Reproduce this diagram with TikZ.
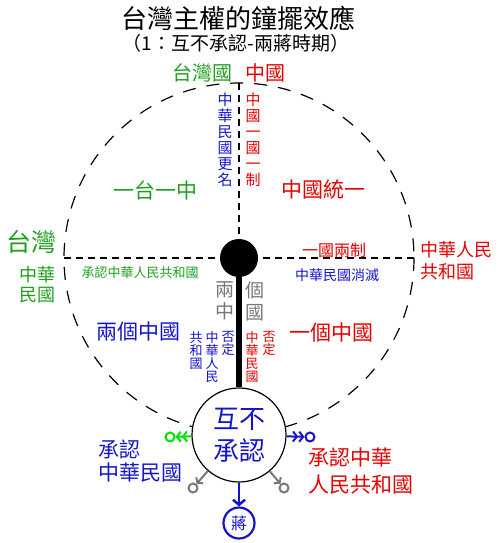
\documentclass[tikz,border=0pt]{standalone}
\usepackage{fontspec}
\setmainfont{Noto Sans CJK TC}
\usetikzlibrary{arrows.meta}
\definecolor{twgreen}{RGB}{30,160,30}
\definecolor{ringgreen}{RGB}{0,225,0}
\definecolor{cnred}{RGB}{230,0,0}
\definecolor{rocblue}{RGB}{20,20,205}
\definecolor{pgray}{RGB}{120,120,120}

\begin{document}
\begin{tikzpicture}
[
    x=1pt, y=-1pt,
    txt/.style={inner sep=0pt, align=center},
    sz/.style 2 args={font=\fontsize{#1}{#2}\selectfont},
    swing/.style={draw, line width=1.2pt, dash pattern=on 13pt off 11pt},
    guide/.style={draw, line width=1.2pt, dash pattern=on 7pt off 5pt},
    ring/.style={circle, draw=#1, line width=2pt, minimum size=9pt, inner sep=0pt},
    push/.style={draw=#1, line width=2pt, -{Straight Barb[length=3.5pt,width=9pt]}},
    twice/.style={-{Straight Barb[length=4pt,width=10pt] Straight Barb[length=4pt,width=10pt]}},
]
\useasboundingbox (0,0) rectangle (500,543);

\node[txt, sz={26}{28}] (title) at (238,18) {台灣主權的鐘擺效應};
\node[txt, sz={19}{21}] (subtitle) at (236,43) {（1：互不承認-兩蔣時期）};

\coordinate (hub) at (239,258);
\coordinate (north end) at (239,83);
\coordinate (west end) at (64,258);
\coordinate (east end) at (414,258);

\draw[swing] (hub) circle (175);
\draw[guide] (north end) -- (hub);
\draw[guide] (west end) -- (hub);
\draw[guide] (east end) -- (hub);

\node[circle, draw, fill=white, line width=1.2pt, minimum size=94pt, inner sep=0pt,
      align=center, text=rocblue, sz={26}{32}] (mutual) at (239,435) {互不\\承認};
\node[circle, fill=black, minimum size=38pt, inner sep=0pt] (ball) at (hub) {};
\draw[line width=6pt] (ball) -- (mutual);

\node[txt, sz={20}{22}, text=twgreen] (taiwan state) at (202,73) {台灣國};
\node[txt, sz={20}{22}, text=cnred] (china state) at (265,73) {中國};
\node[txt, sz={15}{16}, text=rocblue] (rename) at (225,140) {中\\華\\民\\國\\更\\名};
\node[txt, sz={15}{16}, text=cnred] (onesys) at (253,140) {中\\國\\一\\國\\一\\制};

\node[txt, sz={21}{23}, text=twgreen] (one one) at (155,190) {一台一中};
\node[txt, sz={21}{23}, text=cnred] (unify) at (323,190) {中國統一};

\node[txt, sz={25}{27}, text=twgreen] (taiwan) at (31,242) {台灣};
\node[txt, sz={18}{20}, text=twgreen] (roc) at (37,285) {中華\\民國};
\node[txt, sz={13}{15}, text=twgreen] (recog prc) at (140,273) {承認中華人民共和國};
\node[txt, sz={16}{18}, text=cnred] (twosys) at (334,250) {一國兩制};
\node[txt, sz={14}{16}, text=rocblue] (roc gone) at (337,275) {中華民國消滅};
\node[txt, sz={18}{22}, text=cnred, align=left, anchor=west] (prc) at (420,261) {中華人民\\共和國};

\node[txt, sz={21}{23}, text=rocblue] (two chinas) at (138,332) {兩個中國};
\node[txt, sz={21}{23}, text=cnred] (one china) at (331,333) {一個中國};
\node[txt, sz={19}{22}, text=pgray] (grey left) at (225,301) {兩\\中};
\node[txt, sz={19}{22}, text=pgray] (grey right) at (255,301) {個\\國};

\node[txt, sz={13}{13}, text=rocblue, anchor=north] (deny a) at (228,331) {否\\定};
\node[txt, sz={13}{13}, text=rocblue, anchor=north] (deny b) at (212,331) {中\\華\\人\\民};
\node[txt, sz={13}{13}, text=rocblue, anchor=north] (deny c) at (196,331) {共\\和\\國};
\node[txt, sz={13}{13}, text=cnred, anchor=north] (deny d) at (269,331) {否\\定};
\node[txt, sz={13}{13}, text=cnred, anchor=north] (deny e) at (252,331) {中\\華\\民\\國};

\node[ring=ringgreen] (ring tw) at (170,437) {};
\node[ring=rocblue] (ring prc) at (310,437) {};
\node[ring=pgray] (ring left) at (193,488) {};
\node[ring=pgray] (ring right) at (284,488) {};
\node[circle, draw=rocblue, line width=2.2pt, minimum size=31pt, inner sep=0pt,
      text=rocblue, sz={16}{16}] (chiang) at (239,523) {蔣};

\draw[push=ringgreen, twice] (mutual) -- (ring tw);
\draw[push=rocblue, twice] (mutual) -- (ring prc);
\draw[push=pgray] (mutual) -- (ring left);
\draw[push=pgray] (mutual) -- (ring right);
\draw[push=rocblue, line width=2.5pt, -{Straight Barb[length=5pt,width=12pt]}] (mutual) -- (chiang);

\node[txt, sz={21}{23.5}, text=rocblue, align=left, anchor=west] (recog roc) at (98,461) {承認\\中華民國};
\node[txt, sz={21}{26.5}, text=cnred, align=left, anchor=west] (recog prc2) at (308,471) {承認中華\\人民共和國};
\end{tikzpicture}
\end{document}
